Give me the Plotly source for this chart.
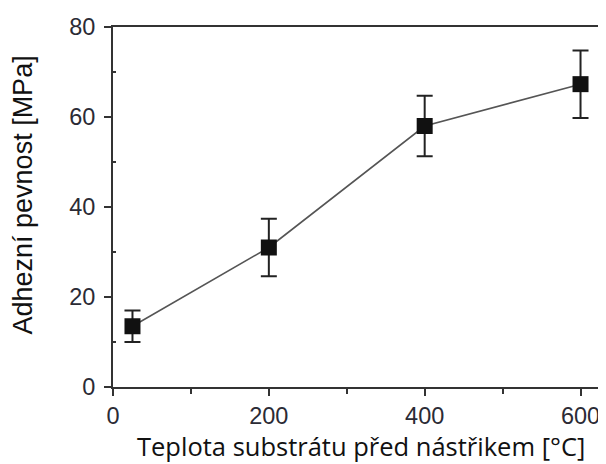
import plotly.graph_objects as go

temperature = [25, 200, 400, 600]
strength = [13.5, 31.0, 58.0, 67.3]
strength_err = [3.5, 6.4, 6.7, 7.5]

x_ticks = [0, 200, 400, 600]
y_ticks = [0, 20, 40, 60, 80]

x_title = "Teplota substrátu před nástřikem [°C]"
y_title = "Adhezní pevnost [MPa]"

fig = go.Figure()
fig.add_trace(go.Scatter(
    x=temperature, y=strength,
    mode="lines+markers",
    line=dict(color="#555555", width=1.6),
    marker=dict(symbol="square", size=16, color="#111111"),
    error_y=dict(type="data", array=strength_err, visible=True,
                 color="#222222", thickness=2, width=8),
    showlegend=False,
))

axis_common = dict(
    showline=True, linecolor="#333333", linewidth=2, mirror=True,
    showgrid=False, zeroline=False,
    ticks="outside", ticklen=7, tickwidth=2, tickcolor="#333333",
    tickfont=dict(family="Liberation Sans, Arial", size=23.5, color="#2b2b35"),
)

fig.update_xaxes(
    range=[0, 625], tickvals=x_ticks, **axis_common,
    minor=dict(tickvals=[100, 300, 500], ticks="outside", ticklen=5, tickwidth=2, tickcolor="#333333"),
)
fig.update_yaxes(
    range=[0, 80], tickvals=y_ticks, ticklabelstandoff=4, **axis_common,
    minor=dict(tickvals=[10, 30, 50, 70], ticks="inside", ticklen=3, tickwidth=2, tickcolor="#333333"),
)

fig.add_annotation(
    text=x_title, xref="paper", yref="paper", x=0.509, y=-0.163,
    xanchor="center", yanchor="middle", showarrow=False,
    font=dict(family="Open Sans", size=25.5, color="#111111"),
)
fig.add_annotation(
    text=y_title, xref="paper", yref="paper", x=-0.184, y=0.533,
    xanchor="center", yanchor="middle", showarrow=False, textangle=-90,
    font=dict(family="Liberation Sans, Arial", size=27, color="#111111"),
)

fig.update_layout(
    width=598, height=456,
    margin=dict(l=105, r=4, t=19, b=77),
    paper_bgcolor="white", plot_bgcolor="white",
)

fig.write_html("out.html")
